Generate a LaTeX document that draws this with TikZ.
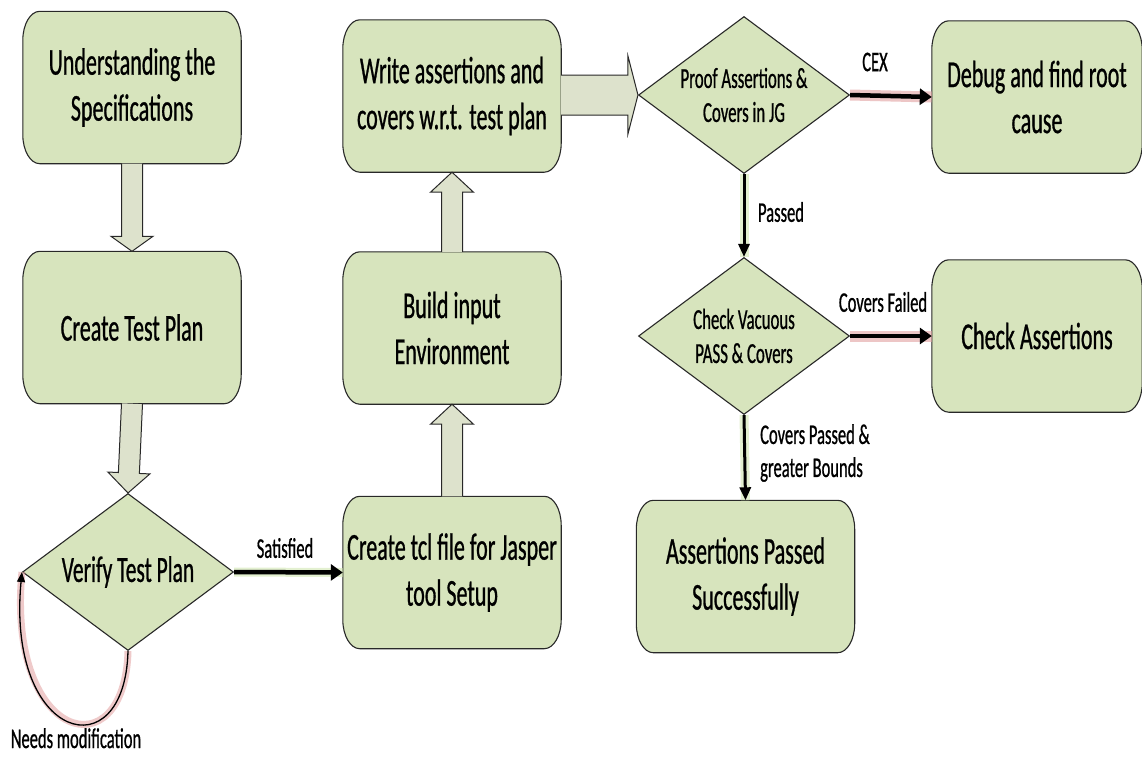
\documentclass[tikz,border=0pt]{standalone}
\usepackage{fontspec}
\setmainfont{Carlito}[FakeStretch=0.58, FakeBold=0.7]
\usetikzlibrary{arrows.meta,calc,shapes.geometric,backgrounds}

\definecolor{boxgreen}{RGB}{215,228,189}
\definecolor{arrowfill}{RGB}{221,226,204}
\definecolor{edgegray}{RGB}{40,40,40}
\definecolor{glowpink}{RGB}{226,160,160}
\definecolor{glowgreen}{RGB}{205,228,170}

\newcommand\boxfont{\fontsize{38pt}{46pt}\selectfont}
\newcommand\bigdiafont{\fontsize{37pt}{42pt}\selectfont}
\newcommand\diafont{\fontsize{29pt}{34pt}\selectfont}
\newcommand\labelfont{\fontsize{28.5pt}{33pt}\selectfont}

\tikzset{
  x=1pt, y=1pt,
  boxtext/.style={minimum width=218pt, minimum height=152pt, inner sep=0pt,
    align=center, font=\boxfont},
  narrowbox/.style={boxtext, minimum width=210pt},
  boxline/.style={draw=edgegray, line width=1.1pt, fill=boxgreen},
  decision/.style={diamond, draw=edgegray, line width=1.1pt, fill=boxgreen,
    inner sep=0pt, aspect=1.35, minimum width=211pt, minimum height=157pt,
    align=center, font=\diafont},
  blockarrow/.style={draw=edgegray, line width=1pt, fill=arrowfill, line join=miter},
  flow/.style={line width=4.5pt, -{Triangle[length=12pt,width=16pt]}},
  downflow/.style={line width=3pt, -{Triangle[length=13pt,width=11pt]}},
  pinkglow/.style={preaction={draw=glowpink, line width=11pt, arrows=-, opacity=0.6}},
  greenglow/.style={preaction={draw=glowgreen, line width=9pt, arrows=-, opacity=0.55}},
  lbl/.style={font=\labelfont, inner sep=0pt, align=left},
}

% rounded box with elliptical corners; the named node carries the text
\newcommand\roundbox[4]{%
  \node[#2] (#1) at (#3) {#4};
  \begin{pgfonlayer}{background}
    \path[boxline] ([xshift=17pt]#1.north west) -- ([xshift=-17pt]#1.north east)
      arc[start angle=90, end angle=0, x radius=17pt, y radius=29pt]
      -- ([yshift=29pt]#1.south east)
      arc[start angle=0, end angle=-90, x radius=17pt, y radius=29pt]
      -- ([xshift=17pt]#1.south west)
      arc[start angle=270, end angle=180, x radius=17pt, y radius=29pt]
      -- ([yshift=-29pt]#1.north west)
      arc[start angle=180, end angle=90, x radius=17pt, y radius=29pt] -- cycle;
  \end{pgfonlayer}}

% wide outlined arrow: from, to, shaft half width, head half width, head length
\newcommand\blockarrow[5]{%
  \path ($(#2)!#5!(#1)$) coordinate (bahead);
  \draw[blockarrow] ($(#1)!#3!90:(#2)$) -- ($(bahead)!#3!90:(#2)$)
    -- ($(bahead)!#4!90:(#2)$) -- (#2) -- ($(bahead)!#4!-90:(#2)$)
    -- ($(bahead)!#3!-90:(#2)$) -- ($(#1)!#3!-90:(#2)$);}

\begin{document}
\begin{tikzpicture}
  \begin{pgfonlayer}{background}
    \fill[white] (0,0) rectangle (1142,-756);
  \end{pgfonlayer}
  \useasboundingbox (0,0) rectangle (1142,-756);

  % left column
  \roundbox{spec}{boxtext}{132,-87.5}{Understanding the\\Specifications}
  \roundbox{plan}{boxtext}{132,-327.5}{Create Test Plan}
  \node[decision, font=\bigdiafont] (verify) at (128,-572) {Verify Test Plan};

  % middle column
  \roundbox{tcl}{boxtext}{452,-572.5}{Create tcl file for Jasper\\tool Setup}
  \roundbox{env}{boxtext}{452,-328}{Build input\\Environment}
  \roundbox{write}{boxtext}{452,-96}{Write assertions and\\covers w.r.t. test plan}

  % right part
  \node[decision] (proof) at (744,-95) {Proof Assertions \&\\Covers in JG};
  \roundbox{debug}{narrowbox}{1037,-97}{Debug and find root\\cause}
  \node[decision] (vacuous) at (744,-336) {Check Vacuous\\PASS \& Covers};
  \roundbox{check}{narrowbox}{1037,-336}{Check Assertions}
  \roundbox{passed}{boxtext}{745.5,-576.5}{Assertions Passed\\Successfully}

  % wide arrows
  \blockarrow{spec.south}{plan.north}{10.5pt}{21pt}{15pt}
  \blockarrow{plan.south}{verify.north}{10.5pt}{21pt}{20pt}
  \blockarrow{tcl.north}{env.south}{10.5pt}{21.5pt}{20pt}
  \blockarrow{env.north}{write.south}{10.5pt}{21.5pt}{20pt}
  \coordinate (writeout) at (write.east |- proof.west);
  \blockarrow{writeout}{proof.west}{20pt}{39pt}{10pt}

  % decision outcomes
  \draw[flow, greenglow] (verify.east) -- (tcl.west);
  \draw[flow, pinkglow] (proof.east) -- (debug.west);
  \draw[downflow, greenglow] (proof.south) -- (vacuous.north);
  \draw[flow, pinkglow] (vacuous.east) -- (check.west);
  \draw[downflow, greenglow] (vacuous.south) -- (passed.north);
  \draw[line width=1.3pt, -{Triangle[length=10pt,width=8pt]},
        preaction={draw=glowpink, line width=7pt, arrows=-, opacity=0.55}]
    (verify.south) .. controls (125,-772) and (6,-742) .. (verify.west);

  % labels
  \node[lbl] (satisfied) at (285,-548) {Satisfied};
  \node[lbl] (cex) at (875,-62) {CEX};
  \node[lbl] (passlbl) at (781,-212) {Passed};
  \node[lbl] (failed) at (883,-302) {Covers Failed};
  \node[lbl, anchor=west] (bounds) at (760,-453) {Covers Passed \&\\greater Bounds};
  \node[lbl, anchor=base] (modify) at (76,-748) {Needs modification};
\end{tikzpicture}
\end{document}
